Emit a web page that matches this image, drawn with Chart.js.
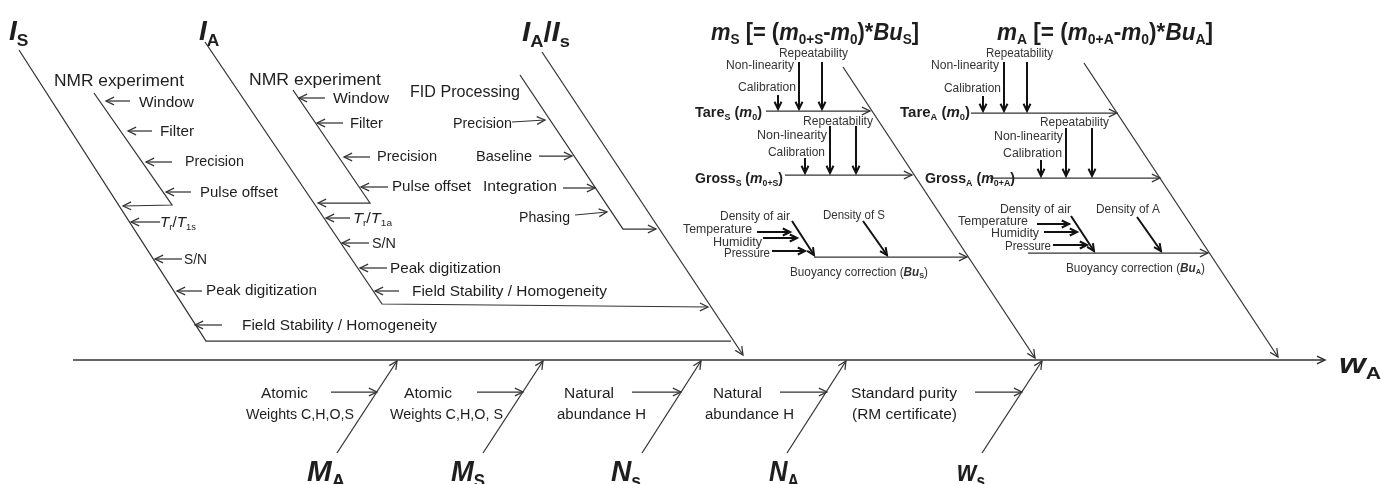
<!DOCTYPE html>
<html>
<head>
<meta charset="utf-8">
<script src="https://cdn.jsdelivr.net/npm/chart.js@4.4.1/dist/chart.umd.min.js"></script>
<style>
  html, body { margin: 0; padding: 0; background: #fff; }
  #wrap { width: 1381px; height: 484px; }
</style>
</head>
<body>
<div id="wrap"><canvas id="fishbone" width="1381" height="484"></canvas></div>
<script>
// ---- diagram text (# = bold, ~ = italic, _{..} = subscript) ----
const effectLabel = "#~w~_{A}#";
const upperBranches = [
  "#~I~_{S}#",
  "#~I~_{A}#",
  "#~I~_{A}/~I~_{s}#",
  "#~m~_{S} [= (~m~_{0+S}-~m~_{0})*~Bu~_{S}]#",
  "#~m~_{A} [= (~m~_{0+A}-~m~_{0})*~Bu~_{A}]#"
];
const lowerBranches = ["#~M~_{A}#", "#~M~_{S}#", "#~N~_{s}#", "#~N~_{A}#", "#~w~_{s}#"];
const subBranches = ["NMR experiment", "NMR experiment", "FID Processing"];
const nmrCauses = ["Window", "Filter", "Precision", "Pulse offset"];
const spectrumCausesS = ["~T~_{r}/~T~_{1s}", "S/N", "Peak digitization", "Field Stability / Homogeneity"];
const spectrumCausesA = ["~T~_{r}/~T~_{1a}", "S/N", "Peak digitization", "Field Stability / Homogeneity"];
const fidCauses = ["Precision", "Baseline", "Integration", "Phasing"];
const weighingsS = ["#Tare_{S} (~m~_{0})#", "#Gross_{S} (~m~_{0+S})#"];
const weighingsA = ["#Tare_{A} (~m~_{0})#", "#Gross_{A} (~m~_{0+A})#"];
const balanceCauses = ["Repeatability", "Non-linearity", "Calibration"];
const densityCausesS = ["Density of air", "Density of S"];
const densityCausesA = ["Density of air", "Density of A"];
const airCauses = ["Temperature", "Humidity", "Pressure"];
const buoyancy = ["Buoyancy correction (#~Bu~_{S}#)", "Buoyancy correction (#~Bu~_{A}#)"];
const lowerCauses = [
  ["Atomic", "Weights C,H,O,S"],
  ["Atomic", "Weights C,H,O, S"],
  ["Natural", "abundance H"],
  ["Natural", "abundance H"],
  ["Standard purity", "(RM certificate)"]
];

// ---- bone geometry (diagram units, x 0..1381, y 0..484 downwards) ----
const lines = [];
function seg(pts, arrow, w) { lines.push({ pts, arrow: !!arrow, w: w || 1.25 }); }

// spine
seg([[73, 360], [1325, 360]], true, 1.5);

// I_S
seg([[19, 50], [206, 341], [731, 341]]);
seg([[94, 93], [172, 205], [123, 206]], true);
[[130, 106, 101], [152, 128, 131], [172, 146, 162], [191, 166, 192]].forEach(a => seg([[a[0], a[2]], [a[1], a[2]]], true));
[[160, 131, 222], [182, 155, 259], [202, 177, 291], [222, 195, 325]].forEach(a => seg([[a[0], a[2]], [a[1], a[2]]], true));

// I_A
seg([[205, 42], [382, 304], [708, 307]], true);
seg([[293, 90], [370, 203], [318, 203]], true);
[[325, 299, 98], [343, 317, 123], [370, 344, 157], [388, 361, 187]].forEach(a => seg([[a[0], a[2]], [a[1], a[2]]], true));
[[350, 326, 218], [369, 342, 243], [387, 360, 268], [399, 375, 291]].forEach(a => seg([[a[0], a[2]], [a[1], a[2]]], true));

// I_A / I_S
seg([[542, 52], [743, 355]], true);
seg([[520, 75], [623, 229], [656, 229]], true);
seg([[512, 122], [545, 120]], true);
seg([[539, 156], [572, 156]], true);
seg([[563, 188], [595, 188]], true);
seg([[575, 215], [607, 212]], true);

// m_S
seg([[843, 67], [1035, 358]], true);
seg([[766, 111], [870, 111]], true);
[[778, 95], [799, 62], [822, 62]].forEach(a => seg([[a[0], a[1]], [a[0], 109]], true, 2));
seg([[785, 175], [912, 175]], true);
[[805, 158], [830, 126], [856, 126]].forEach(a => seg([[a[0], a[1]], [a[0], 173]], true, 2));
seg([[814, 257], [967, 257]], true);
seg([[792, 221], [814, 255]], true, 2);
seg([[863, 221], [887, 255]], true, 2);
seg([[757, 232], [790, 232]], true, 2);
seg([[763, 238], [797, 238]], true, 2);
seg([[772, 251], [805, 251]], true, 2);

// m_A
seg([[1084, 63], [1278, 357]], true);
seg([[971, 113], [1117, 113]], true);
[[983, 96], [1004, 62], [1027, 62]].forEach(a => seg([[a[0], a[1]], [a[0], 111]], true, 2));
seg([[990, 178], [1160, 178]], true);
[[1041, 160], [1066, 128], [1092, 128]].forEach(a => seg([[a[0], a[1]], [a[0], 176]], true, 2));
seg([[1028, 253], [1208, 253]], true);
seg([[1071, 216], [1094, 251]], true, 2);
seg([[1137, 217], [1161, 251]], true, 2);
seg([[1037, 224], [1069, 224]], true, 2);
seg([[1044, 232], [1077, 232]], true, 2);
seg([[1053, 245], [1087, 245]], true, 2);

// lower bones
[[337, 397, 331, 377], [483, 543, 477, 523], [642, 701, 632, 681], [787, 846, 780, 827], [982, 1042, 975, 1022]]
  .forEach(a => {
    seg([[a[0], 453], [a[1], 361]], true);
    seg([[a[2], 392], [a[3], 392]], true);
  });

// ---- text placement: [text, left x, middle y, fit width (0 = natural), font px] ----
const texts = [];
function put(t, x, y, w, size, color) { texts.push({ t, x, y, w, size, color: color || "#1e1e1e" }); }

put(effectLabel, 1339, 363, 42, 28);
put(upperBranches[0], 9, 30, 0, 28);
put(upperBranches[1], 199, 30, 0, 28);
put(upperBranches[2], 522, 31, 48, 28);
put(upperBranches[3], 711, 31, 208, 24);
put(upperBranches[4], 997, 31, 216, 24);
lowerBranches.forEach((t, i) => put(t, [307, 451, 611, 769, 957][i], 471, [38, 34, 30, 30, 28][i], 29));

put(subBranches[0], 54, 80, 130, 17);
put(subBranches[1], 249, 79, 132, 17);
put(subBranches[2], 410, 91, 110, 17);

nmrCauses.forEach((t, i) => put(t, [139, 160, 185, 200][i], [102, 131, 161, 192][i], [55, 34, 59, 78][i], 15));
nmrCauses.forEach((t, i) => put(t, [333, 350, 377, 392][i], [98, 123, 156, 186][i], [56, 33, 60, 79][i], 15));
spectrumCausesS.forEach((t, i) => put(t, [160, 184, 206, 242][i], [222, 259, 290, 325][i], [36, 23, 111, 195][i], 15));
spectrumCausesA.forEach((t, i) => put(t, [353, 372, 390, 412][i], [218, 243, 268, 291][i], [39, 24, 111, 195][i], 15));
fidCauses.forEach((t, i) => put(t, [453, 476, 483, 519][i], [123, 156, 186, 217][i], [59, 56, 74, 51][i], 15));

const sm = "#333";
balanceCauses.forEach((t, i) => put(t, [779, 726, 738][i], [52, 64, 86][i], [69, 68, 58][i], 12.5, sm));
balanceCauses.forEach((t, i) => put(t, [803, 757, 768][i], [120, 134, 151][i], [70, 70, 57][i], 12.5, sm));
balanceCauses.forEach((t, i) => put(t, [986, 931, 944][i], [52, 64, 87][i], [67, 68, 57][i], 12.5, sm));
balanceCauses.forEach((t, i) => put(t, [1040, 994, 1003][i], [121, 135, 152][i], [69, 69, 59][i], 12.5, sm));
put(weighingsS[0], 695, 112, 67, 15);
put(weighingsS[1], 695, 178, 88, 15);
put(weighingsA[0], 900, 112, 70, 15);
put(weighingsA[1], 925, 178, 90, 15);
densityCausesS.forEach((t, i) => put(t, [720, 823][i], [215, 214][i], [70, 62][i], 12.5, sm));
densityCausesA.forEach((t, i) => put(t, [1000, 1096][i], [208, 208][i], [71, 64][i], 12.5, sm));
airCauses.forEach((t, i) => put(t, [683, 713, 724][i], [228, 241, 252][i], [69, 49, 46][i], 12.5, sm));
airCauses.forEach((t, i) => put(t, [958, 991, 1005][i], [220, 232, 245][i], [70, 48, 46][i], 12.5, sm));
put(buoyancy[0], 790, 271, 138, 12.5, sm);
put(buoyancy[1], 1066, 267, 139, 12.5, sm);
lowerCauses.forEach((pair, i) => {
  put(pair[0], [261, 404, 564, 713, 851][i], 392, [47, 48, 50, 49, 106][i], 15.5);
  put(pair[1], [246, 390, 557, 705, 852][i], 413, [108, 113, 89, 89, 105][i], 15.5);
});

// ---- rich text helpers ----
function parseRich(s) {
  const runs = [];
  let b = false, it = false, buf = "";
  const flush = (sub) => { if (buf) runs.push({ t: buf, b, it, sub }); buf = ""; };
  for (let k = 0; k < s.length; k++) {
    const c = s[k];
    if (c === "~") { flush(false); it = !it; }
    else if (c === "#") { flush(false); b = !b; }
    else if (c === "_" && s[k + 1] === "{") {
      flush(false);
      const e = s.indexOf("}", k);
      buf = s.slice(k + 2, e);
      flush(true);
      k = e;
    } else buf += c;
  }
  flush(false);
  return runs;
}
const FAMILY = '"Liberation Sans", Arial, sans-serif';
function runFont(r, size) {
  return (r.it ? "italic " : "") + (r.b ? "bold " : "") + (r.sub ? size * 0.62 : size) + "px " + FAMILY;
}

const arrowPlugin = {
  id: "arrowsAndText",
  afterDatasetsDraw(chart) {
    const { ctx, scales } = chart;
    const sx = v => scales.x.getPixelForValue(v);
    const sy = v => scales.y.getPixelForValue(v);

    // arrow heads (open V)
    lines.forEach(l => {
      if (!l.arrow) return;
      const n = l.pts.length;
      const x1 = sx(l.pts[n - 2][0]), y1 = sy(l.pts[n - 2][1]);
      const x2 = sx(l.pts[n - 1][0]), y2 = sy(l.pts[n - 1][1]);
      const a = Math.atan2(y2 - y1, x2 - x1);
      const len = l.w > 1.6 ? 8 : 9;
      ctx.save();
      ctx.strokeStyle = l.w > 1.6 ? "#111" : "#333";
      ctx.lineWidth = l.w;
      ctx.beginPath();
      ctx.moveTo(x2 - len * Math.cos(a - 0.45), y2 - len * Math.sin(a - 0.45));
      ctx.lineTo(x2, y2);
      ctx.lineTo(x2 - len * Math.cos(a + 0.45), y2 - len * Math.sin(a + 0.45));
      ctx.stroke();
      ctx.restore();
    });

    // labels
    texts.forEach(tx => {
      const runs = parseRich(tx.t);
      let total = 0;
      runs.forEach(r => { ctx.font = runFont(r, tx.size); r.wd = ctx.measureText(r.t).width; total += r.wd; });
      let k = tx.w ? tx.w / total : 1;
      k = Math.max(0.7, Math.min(1.3, k));
      const base = sy(tx.y) + tx.size * 0.36;
      ctx.save();
      ctx.translate(sx(tx.x), base);
      ctx.scale(k, 1);
      ctx.fillStyle = tx.color;
      ctx.textBaseline = "alphabetic";
      let cx = 0;
      runs.forEach(r => {
        ctx.font = runFont(r, tx.size);
        ctx.fillText(r.t, cx, r.sub ? tx.size * 0.2 : 0);
        cx += r.wd;
      });
      ctx.restore();
    });
  }
};

new Chart(document.getElementById("fishbone"), {
  type: "scatter",
  data: {
    datasets: lines.map(l => ({
      data: l.pts.map(p => ({ x: p[0], y: p[1] })),
      showLine: true,
      pointRadius: 0,
      borderColor: l.w > 1.6 ? "#111" : "#333",
      borderWidth: l.w,
      tension: 0,
      fill: false
    }))
  },
  options: {
    responsive: false,
    animation: false,
    events: [],
    layout: { padding: 0 },
    plugins: { legend: { display: false }, tooltip: { enabled: false } },
    scales: {
      x: { type: "linear", min: 0, max: 1381, display: false },
      y: { type: "linear", min: 0, max: 484, reverse: true, display: false }
    }
  },
  plugins: [arrowPlugin]
});
</script>
</body>
</html>
